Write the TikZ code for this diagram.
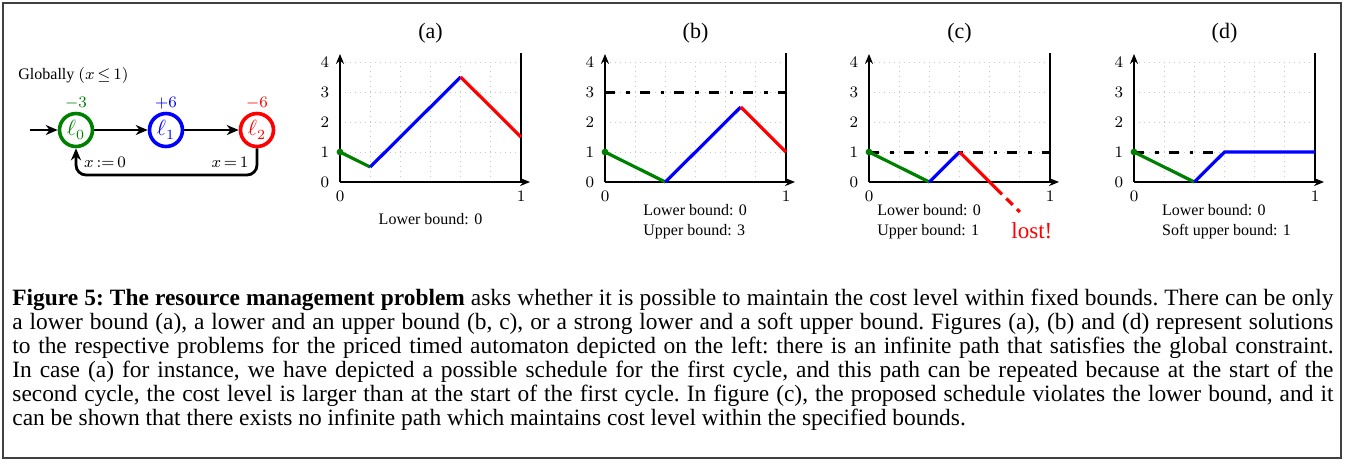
\documentclass[tikz,border=0pt]{standalone}
\usepackage[no-math]{fontspec}
\setmainfont{Liberation Serif}
\usetikzlibrary{arrows.meta}

\definecolor{locgreen}{RGB}{0,128,0}

\tikzset{
  frame/.style={draw=black!75, line width=0.75pt},
  loc/.style={circle, draw, line width=1.8pt, minimum size=16.5pt, inner sep=0pt,
    font=\fontsize{10.5}{12}\selectfont},
  cost/.style={font=\fontsize{8.5}{10}\selectfont, inner sep=0pt},
  guard/.style={font=\fontsize{8.5}{10}\selectfont, inner sep=0pt},
  edge/.style={line width=1.4pt, -{Stealth[length=6pt,width=5pt]}},
  gridline/.style={gray!45, line width=0.5pt, dotted},
  axis/.style={line width=1.4pt},
  axarrow/.style={axis, -{Stealth[length=5pt,width=4pt]}},
  bound/.style={line width=1.5pt, dash pattern=on 5pt off 5.5pt on 1.8pt off 5pt},
  curve/.style={line width=1.6pt},
  tick/.style={font=\fontsize{8}{10}\selectfont, inner sep=0pt},
  plottitle/.style={font=\fontsize{11}{13}\selectfont, inner sep=0pt, anchor=base},
  note/.style={font=\fontsize{8}{10}\selectfont, inner sep=0pt, anchor=base west},
  caption/.style={font=\fontsize{11.7}{12}\selectfont\frenchspacing, inner sep=0pt,
    anchor=north west, text width=660.5pt, align=justify},
}

% grid, axes and tick labels of one cost plot; #1 prefixes the node names
\newcommand\drawplotbase[1]{%
  \foreach \i in {1,...,5} \draw[gridline] (\i/6,0) -- (\i/6,4);
  \foreach \j in {1,...,4} \draw[gridline] (0,\j) -- (1,\j);
  \draw[axarrow] (0,0) -- (0,4.27);
  \draw[axarrow] (0,0) -- (1.05,0);
  \draw[axis] (1,0) -- (1,4.3);
  \foreach \k in {0,...,4} \node[tick] (#1y\k) at (-0.083,\k) {$\k$};
  \node[tick] (#1x0) at (0,-0.49) {$0$};
  \node[tick] (#1x1) at (1,-0.49) {$1$};
}

\begin{document}
\begin{tikzpicture}[x=0.5pt, y=-0.5pt]
\useasboundingbox (0,0) rectangle (1355,463);
\draw[frame] (3,3) rectangle (1341,458);

% priced timed automaton
\node[anchor=west, inner sep=0pt, font=\fontsize{8}{10}\selectfont] (glob) at (18,75) {Globally $(x\,{\leq}\,1)$};
\node[loc, draw=locgreen, text=locgreen] (l0) at (76,130) {$\ell_0$};
\node[loc, draw=blue, text=blue] (l1) at (166,130) {$\ell_1$};
\node[loc, draw=red, text=red] (l2) at (257,130) {$\ell_2$};
\node[cost, text=locgreen] (c0) at (76,103) {$-3$};
\node[cost, text=blue] (c1) at (166,103) {$+6$};
\node[cost, text=red] (c2) at (257,103) {$-6$};
\coordinate (init) at (30,130);
\coordinate (ret) at (0,175);
\draw[edge] (init) -- (l0);
\draw[edge] (l0) -- (l1);
\draw[edge] (l1) -- (l2);
\draw[edge, rounded corners=5pt] (l2.south) -- (l2.south |- ret) -- (l0.south |- ret) -- (l0.south);
\node[guard] (g0) at (105,162) {$x\,{:=}\,0$};
\node[guard] (g1) at (230,162) {$x\,{=}\,1$};

% (a) lower bound only
\begin{scope}[shift={(340,182)}, x=90.5pt, y=15pt]
  \drawplotbase{a}
  \node[plottitle] (ta) at (0.5,4.8) {(a)};
  \draw[curve, locgreen] (0,1) -- (1/6,0.5);
  \draw[curve, blue] (1/6,0.5) -- (2/3,3.5);
  \draw[curve, red] (2/3,3.5) -- (1,1.5);
  \fill[locgreen] (0,1) circle[radius=1.7pt];
  \node[font=\fontsize{8}{10}\selectfont, inner sep=0pt, anchor=base] (na) at (0.5,-1.43) {Lower bound: 0};
\end{scope}

% (b) lower and upper bound
\begin{scope}[shift={(605,182)}, x=90.5pt, y=15pt]
  \drawplotbase{b}
  \node[plottitle] (tb) at (0.5,4.8) {(b)};
  \draw[bound] (0,3) -- (1,3);
  \draw[curve, locgreen] (0,1) -- (1/3,0);
  \draw[curve, blue] (1/3,0) -- (3/4,2.5);
  \draw[curve, red] (3/4,2.5) -- (1,1);
  \fill[locgreen] (0,1) circle[radius=1.7pt];
  \node[note] (nb1) at (0.21,-1.1) {Lower bound: 0};
  \node[note] (nb2) at (0.21,-1.77) {Upper bound: 3};
\end{scope}

% (c) schedule leaving the bounds
\begin{scope}[shift={(869,182)}, x=90.5pt, y=15pt]
  \drawplotbase{c}
  \node[plottitle] (tc) at (0.5,4.8) {(c)};
  \draw[bound] (0,1) -- (1,1);
  \draw[curve, locgreen] (0,1) -- (1/3,0);
  \draw[curve, blue] (1/3,0) -- (1/2,1);
  \draw[curve, red] (1/2,1) -- (0.7,-0.2);
  \draw[curve, red, dash pattern=on 4.5pt off 3pt] (0.7,-0.2) -- (5/6,-1);
  \fill[locgreen] (0,1) circle[radius=1.7pt];
  \node[note] (nc1) at (0.044,-1.1) {Lower bound: 0};
  \node[note] (nc2) at (0.044,-1.77) {Upper bound: 1};
  \node[font=\fontsize{11.5}{13}\selectfont, text=red, inner sep=0pt, anchor=base] (lost) at (0.9,-1.87) {lost!};
\end{scope}

% (d) soft upper bound
\begin{scope}[shift={(1134,182)}, x=90.5pt, y=15pt]
  \drawplotbase{d}
  \node[plottitle] (td) at (0.5,4.8) {(d)};
  \draw[bound] (0,1) -- (1/2,1);
  \draw[curve, locgreen] (0,1) -- (1/3,0);
  \draw[curve, blue] (1/3,0) -- (1/2,1) -- (1,1);
  \fill[locgreen] (0,1) circle[radius=1.7pt];
  \node[note] (nd1) at (0.153,-1.1) {Lower bound: 0};
  \node[note] (nd2) at (0.153,-1.77) {Soft upper bound: 1};
\end{scope}

\node[caption] (cap) at (12,289) {\textbf{Figure 5: The resource management problem} asks whether it is possible to maintain the cost level within fixed bounds. There can be only\linebreak
a lower bound (a), a lower and an upper bound (b, c), or a strong lower and a soft upper bound. Figures (a), (b) and (d) represent solutions\linebreak
to the respective problems for the priced timed automaton depicted on the left: there is an infinite path that satisfies the global constraint.\linebreak
In case (a) for instance, we have depicted a possible schedule for the first cycle, and this path can be repeated because at the start of the\linebreak
second cycle, the cost level is larger than at the start of the first cycle. In figure (c), the proposed schedule violates the lower bound, and it\linebreak
can be shown that there exists no infinite path which maintains cost level within the specified bounds.};
\end{tikzpicture}
\end{document}
